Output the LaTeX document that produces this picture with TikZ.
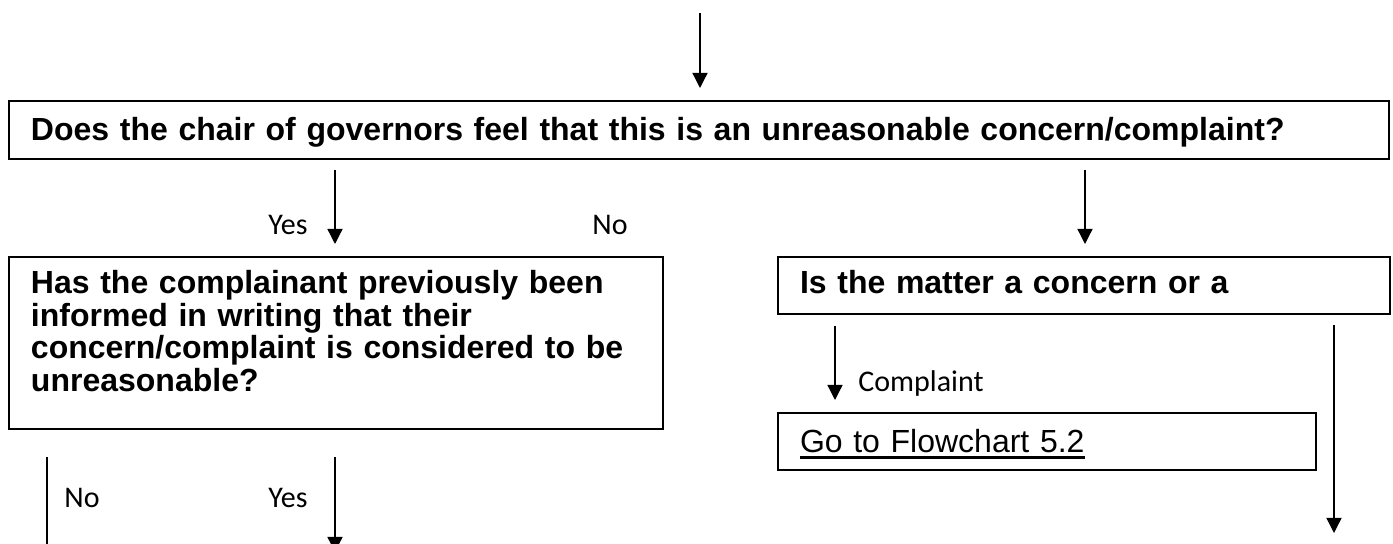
\documentclass[tikz,border=0pt]{standalone}
\usepackage{fontspec}
\setmainfont{Liberation Sans}
\newfontfamily\labelfont{Carlito}
\usetikzlibrary{arrows.meta, positioning}
\newcommand\flowlink[1]{\setbox0\hbox{#1}\rlap{\rule[-3pt]{\wd0}{1.3pt}}\box0}

\begin{document}
\begin{tikzpicture}[x=0.5pt, y=-0.5pt,
  qbox/.style={draw, line width=1pt, anchor=north west, align=left, inner xsep=11pt, inner ysep=0pt, font=\fontsize{16}{16.25}\selectfont\bfseries},
  lbl/.style={anchor=base, inner sep=0pt, font=\labelfont\fontsize{15}{18}\selectfont},
  arr/.style={-{Triangle[width=7.5pt,length=7.5pt]}, line width=0.65pt},
  ln/.style={line width=0.65pt}]
\useasboundingbox (0,0) rectangle (1393,544);
\clip (0,0) rectangle (1393,544);

\node[qbox, text width=668pt, text height=20pt, text depth=9pt] (qchair) at (8,100) {Does the chair of governors feel that this is an unreasonable concern/complaint?};
\node[qbox, text width=305pt, text height=18.5pt, text depth=67.5pt] (qprev) at (8,256) {Has the complainant previously been\\informed in writing that their\\concern/complaint is considered to be\\unreasonable?};
\node[qbox, text width=284pt, text height=18.5pt, text depth=10pt] (qmatter) at (777,256) {Is the matter a concern or a};
\node[qbox, text width=247pt, text height=20pt, text depth=8.5pt, font=\fontsize{16}{16.25}\selectfont\mdseries] (gofive) at (777,412) {\flowlink{Go to Flowchart 5.2}};

\coordinate (start) at (700,13);
\coordinate (endr) at (1334,533);
\coordinate (endno) at (47,560);
\coordinate (endyes) at (335,552);

\draw[arr, shorten >=6pt] (start) -- (start |- qchair.north);
\draw[arr, shorten <=5pt, shorten >=6pt] (qchair.south -| 335,0) -- (qprev.north -| 335,0);
\draw[arr, shorten <=5pt, shorten >=6pt] (qchair.south -| 1085,0) -- (qmatter.north -| 1085,0);
\draw[arr, shorten <=5.5pt, shorten >=6pt] (qmatter.south -| 835,0) -- (gofive.north -| 835,0);
\draw[arr, shorten <=5pt] (qmatter.south -| endr) -- (endr);
\draw[ln, shorten <=13.5pt] (qprev.south -| endno) -- (endno);
\draw[arr, shorten <=13.5pt] (qprev.south -| endyes) -- (endyes);

\node[lbl] (yesa) at (288,235) {Yes};
\node[lbl] (noa) at (610,235) {No};
\node[lbl, anchor=base west] (compl) at (858,392) {Complaint};
\node[lbl] (nob) at (82,508) {No};
\node[lbl] (yesb) at (288,508) {Yes};

\end{tikzpicture}
\end{document}
